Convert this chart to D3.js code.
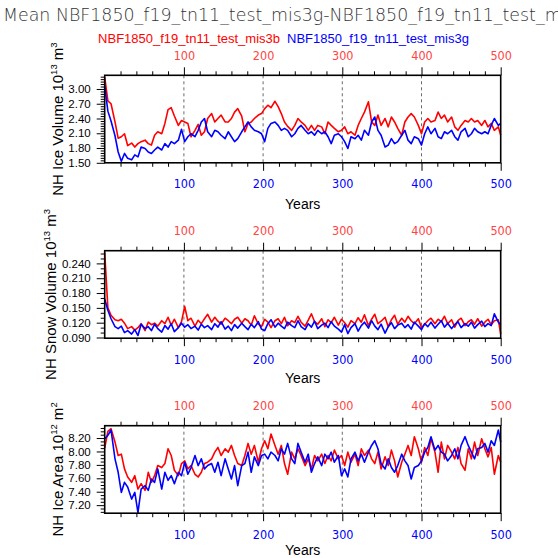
<!DOCTYPE html>
<html>
<head>
<meta charset="utf-8">
<script src="https://cdn.jsdelivr.net/npm/d3@7"></script>
<style>
  body { margin: 0; background: #fff; }
  svg { display: block; }
</style>
</head>
<body>
<svg id="chart" width="558" height="558"></svg>
<script>
// model years sampled from the time series
const years = [0,4,8,13,17,21,25,29,34,38,42,46,51,55,59,63,67,72,76,80,84,88,93,97,101,105,109,114,118,122,
  126,130,135,139,143,147,152,156,160,164,168,173,177,181,185,189,194,198,202,206,210,215,219,223,227,231,236,240,244,248,
  253,257,261,265,269,274,278,282,286,290,295,299,303,307,311,316,320,324,328,333,337,341,345,349,354,358,362,366,370,375,
  379,383,387,391,396,400,404,408,412,417,421,425,429,433,438,442,446,450,455,459,463,467,471,476,480,484,488,492,497,500];

const xTicks = [100, 200, 300, 400, 500];

// NH ice volume, 10^13 m^3
const iceVolMis3b = [
  3.24,2.76,2.70,2.33,2.00,2.03,2.09,1.85,1.90,1.82, 1.89,1.93,1.96,1.89,1.86,2.06,2.13,2.09,2.30,2.58,
  2.62,2.45,2.26,2.36,2.33,2.30,2.03,2.16,2.28,2.06, 2.13,2.40,2.50,2.33,2.40,2.47,2.33,2.33,2.40,2.53,
  2.60,2.45,2.13,2.30,2.33,2.40,2.47,2.50,2.60,2.67, 2.62,2.75,2.64,2.50,2.33,2.24,2.16,2.26,2.40,2.33,
  2.26,2.16,2.26,2.16,2.26,2.23,2.09,2.33,2.26,2.20, 2.13,2.16,2.23,2.09,2.13,2.06,2.26,2.40,2.53,2.74,
  2.33,2.26,2.47,2.26,2.40,2.23,2.43,2.33,2.20,2.06, 2.33,2.43,2.50,2.43,2.26,2.09,2.33,2.40,2.33,2.36,
  2.53,2.40,2.47,2.33,2.43,2.23,2.16,2.26,2.36,2.33, 2.40,2.33,2.36,2.26,2.36,2.23,2.30,2.16,2.23,2.06];
const iceVolMis3g = [
  3.07,2.55,2.35,2.05,1.72,1.53,1.69,1.59,1.56,1.66, 1.62,1.82,1.79,1.72,1.69,1.76,1.82,1.76,1.89,1.82,
  1.93,1.89,1.96,2.18,1.93,2.03,2.09,2.03,2.16,2.33, 2.40,2.13,2.03,2.16,2.13,2.06,1.99,2.13,2.03,1.93,
  1.99,2.13,2.23,2.33,2.23,2.16,2.13,2.09,1.93,2.20, 2.30,2.33,2.26,2.16,2.20,2.16,2.03,2.09,2.20,2.26,
  2.16,2.09,2.13,2.06,2.16,2.09,2.13,2.03,1.89,2.06, 2.09,2.03,1.93,1.79,2.03,1.99,2.06,1.96,2.16,2.06,
  2.33,2.43,2.16,2.06,1.82,1.86,1.99,1.89,1.93,2.06, 2.16,1.96,1.89,2.03,1.99,1.86,2.09,2.23,2.09,2.20,
  2.03,1.99,2.13,2.09,2.16,2.03,1.96,2.13,2.20,2.03, 2.09,2.20,2.13,2.09,2.13,2.09,2.26,2.40,2.26,2.30];

// NH snow volume, 10^13 m^3
const snowVolMis3b = [
  0.262,0.150,0.135,0.126,0.124,0.127,0.119,0.108,0.112,0.105, 0.110,0.118,0.104,0.121,0.116,0.119,0.113,0.124,0.118,0.131,
  0.115,0.127,0.110,0.122,0.153,0.124,0.129,0.113,0.125,0.118, 0.128,0.137,0.121,0.131,0.123,0.117,0.129,0.124,0.118,0.127,
  0.131,0.119,0.128,0.124,0.115,0.134,0.117,0.112,0.127,0.121, 0.110,0.124,0.128,0.118,0.131,0.114,0.124,0.120,0.133,0.121,
  0.113,0.125,0.138,0.122,0.117,0.128,0.112,0.126,0.120,0.131, 0.115,0.127,0.120,0.111,0.124,0.118,0.130,0.121,0.136,0.114,
  0.127,0.137,0.118,0.123,0.131,0.112,0.126,0.135,0.117,0.129, 0.121,0.133,0.124,0.118,0.128,0.110,0.117,0.124,0.129,0.118,
  0.127,0.122,0.133,0.118,0.126,0.111,0.124,0.129,0.114,0.122, 0.126,0.117,0.128,0.113,0.121,0.127,0.116,0.124,0.126,0.097];
const snowVolMis3g = [
  0.168,0.145,0.128,0.112,0.108,0.113,0.100,0.104,0.097,0.106, 0.094,0.117,0.108,0.112,0.104,0.117,0.108,0.101,0.114,0.107,
  0.118,0.102,0.110,0.119,0.111,0.116,0.108,0.113,0.105,0.117, 0.110,0.114,0.106,0.118,0.111,0.122,0.107,0.113,0.104,0.116,
  0.109,0.119,0.112,0.106,0.117,0.110,0.122,0.107,0.104,0.118, 0.126,0.111,0.119,0.113,0.108,0.121,0.114,0.110,0.124,0.112,
  0.106,0.118,0.111,0.123,0.108,0.115,0.119,0.110,0.122,0.113, 0.107,0.101,0.116,0.098,0.110,0.118,0.103,0.114,0.121,0.109,
  0.124,0.113,0.106,0.117,0.099,0.112,0.120,0.108,0.115,0.119, 0.110,0.116,0.107,0.121,0.113,0.106,0.118,0.112,0.121,0.109,
  0.117,0.124,0.111,0.119,0.108,0.116,0.122,0.110,0.118,0.113, 0.121,0.109,0.116,0.123,0.112,0.118,0.114,0.138,0.121,0.116];

// NH ice area, 10^12 m^2
const iceAreaMis3b = [
  8.05,8.30,8.34,8.14,7.94,7.96,7.74,7.62,7.54,7.64, 7.44,7.52,7.42,7.69,7.54,7.64,7.79,7.76,7.82,8.04,
  7.94,7.72,7.64,7.82,7.86,7.74,7.79,7.66,7.62,7.69, 7.82,7.84,7.89,7.99,8.06,7.94,8.04,7.99,8.09,7.94,
  7.82,7.79,7.94,8.12,7.96,8.09,7.84,8.04,8.16,8.04, 8.26,8.09,7.96,8.09,7.82,7.66,7.99,7.89,8.04,7.94,
  7.79,7.89,7.74,7.94,7.86,7.96,7.82,7.94,7.86,8.02, 7.89,7.94,7.79,7.99,7.84,7.96,7.79,8.04,7.94,8.02,
  7.89,7.82,7.99,7.74,7.92,7.79,8.02,7.86,7.62,7.84, 7.96,8.09,7.94,8.22,8.04,7.84,8.06,7.94,8.19,7.99,
  7.69,8.14,7.89,8.09,7.99,7.89,8.06,7.82,7.72,8.04, 7.89,8.14,7.94,8.19,8.04,7.92,8.06,7.66,7.94,7.84];
const iceAreaMis3g = [
  8.19,8.24,8.32,7.89,7.69,7.39,7.54,7.47,7.29,7.39, 7.09,7.44,7.49,7.42,7.59,7.54,7.74,7.44,7.69,7.57,
  7.64,7.52,7.69,7.64,7.84,7.66,7.76,7.94,7.79,7.89, 7.74,7.79,7.82,7.69,7.84,7.64,7.89,7.74,7.59,7.79,
  7.49,7.79,7.82,7.99,7.69,7.92,7.79,7.94,7.96,7.89, 7.99,7.94,7.86,8.04,7.96,8.12,7.89,7.82,8.12,7.99,
  7.84,7.96,7.69,7.82,7.92,7.79,7.96,7.89,7.99,7.84, 7.94,7.64,7.74,7.62,7.89,7.99,7.86,7.96,7.84,7.99,
  8.09,8.16,8.04,7.82,7.74,7.89,7.76,7.69,7.79,7.96, 7.86,7.79,7.59,7.76,7.79,7.86,7.99,8.06,8.22,8.02,
  8.09,7.99,7.96,7.86,7.94,8.04,7.89,8.09,8.22,8.09, 7.99,7.89,8.04,8.06,8.12,7.99,8.16,8.09,8.32,8.14];

const volTicks = [1.5, 1.8, 2.1, 2.4, 2.7, 3.0];
const snowTicks = [0.09, 0.12, 0.15, 0.18, 0.21, 0.24];
const areaTicks = [7.2, 7.4, 7.6, 7.8, 8.0, 8.2];

const caseB = "NBF1850_f19_tn11_test_mis3b";
const caseG = "NBF1850_f19_tn11_test_mis3g";

const svg = d3.select("#chart");
const left = 104.7, right = 500.7, ph = 87.5;
const tickFont = "'Liberation Sans Narrow', 'DejaVu Sans Condensed', 'Liberation Sans', Arial, sans-serif";
const sans = "'Liberation Sans', Arial, sans-serif";

const x = d3.scaleLinear().domain([0, 500]).range([left, right]);

// main title runs off the right edge, as in the original
svg.append("text")
    .attr("x", 3).attr("y", 21)
    .attr("font-family", "'DejaVu Sans', sans-serif")
    .attr("font-weight", 200)
    .attr("font-size", 17.4)
    .attr("fill", "#333")
    .text("Mean " + caseG + "-" + caseB);

svg.append("text")
    .attr("x", 280).attr("y", 43)
    .attr("text-anchor", "end")
    .attr("font-family", sans).attr("font-size", 13)
    .attr("fill", "red")
    .text(caseB);
svg.append("text")
    .attr("x", 287).attr("y", 43)
    .attr("font-family", sans).attr("font-size", 13)
    .attr("fill", "blue")
    .text(caseG);

const panels = [
  {top: 75.3, domain: [1.5, 3.278], ticks: volTicks, minor: 0.05, fmt: ".2f", yearsDy: 46,
   title: ["NH Ice Volume 10", "13", " m", "3"], red: iceVolMis3b, blue: iceVolMis3g},
  {top: 250.7, domain: [0.0886, 0.2657], ticks: snowTicks, minor: 0.01, fmt: ".3f", yearsDy: 45,
   title: ["NH Snow Volume 10", "13", " m", "3"], red: snowVolMis3b, blue: snowVolMis3g},
  {top: 425.7, domain: [7.08, 8.384], ticks: areaTicks, minor: 0.05, fmt: ".2f", yearsDy: 42,
   title: ["NH Ice Area 10", "12", " m", "2"], red: iceAreaMis3b, blue: iceAreaMis3g}
];

panels.forEach(p => {
  const bottom = p.top + ph;
  const y = d3.scaleLinear().domain(p.domain).range([bottom, p.top]);
  const g = svg.append("g");

  // dashed year grid
  g.selectAll(".grid")
    .data(xTicks.slice(0, 4))
    .enter().append("line")
      .attr("x1", d => x(d)).attr("x2", d => x(d))
      .attr("y1", p.top).attr("y2", bottom)
      .attr("stroke", "#444").attr("stroke-width", 0.8)
      .attr("stroke-dasharray", "3,3");

  const minorX = d3.range(20, 500, 20).filter(d => d % 100 !== 0);
  const minorY = d3.range(Math.ceil(p.domain[0] / p.minor) * p.minor, p.domain[1], p.minor)
      .filter(v => !p.ticks.some(t => Math.abs(t - v) < p.minor / 10));

  // top axis, red labels
  const gt = g.append("g").attr("transform", `translate(0,${p.top})`);
  gt.call(d3.axisTop(x).tickValues(xTicks).tickSize(8).tickPadding(7.5).tickFormat(d3.format("d")));
  gt.append("g").call(d3.axisTop(x).tickValues(minorX).tickSize(4).tickFormat(""));

  // bottom axis, blue labels
  const gb = g.append("g").attr("transform", `translate(0,${bottom})`);
  gb.call(d3.axisBottom(x).tickValues(xTicks).tickSize(8).tickPadding(8.5).tickFormat(d3.format("d")));
  gb.append("g").call(d3.axisBottom(x).tickValues(minorX).tickSize(4).tickFormat(""));

  // left axis
  const gl = g.append("g").attr("transform", `translate(${left},0)`);
  gl.call(d3.axisLeft(y).tickValues(p.ticks).tickSize(8).tickPadding(6).tickFormat(d3.format(p.fmt)));
  gl.append("g").call(d3.axisLeft(y).tickValues(minorY).tickSize(4).tickFormat(""));

  g.selectAll(".domain").remove();
  g.selectAll(".tick line").attr("stroke", "#000").attr("stroke-width", 1);
  gt.selectAll("text").attr("fill", "#f44").attr("font-family", tickFont).attr("font-size", 12.5);
  gb.selectAll("text").attr("fill", "blue").attr("font-family", tickFont).attr("font-size", 12.5);
  gl.selectAll("text").attr("fill", "#000").attr("font-family", sans).attr("font-size", 11.5);

  const line = d3.line()
      .x((d, i) => x(years[i]))
      .y(d => y(d));

  g.append("path").datum(p.red)
      .attr("fill", "none").attr("stroke", "red").attr("stroke-width", 1.6)
      .attr("stroke-linejoin", "round")
      .attr("d", line);
  g.append("path").datum(p.blue)
      .attr("fill", "none").attr("stroke", "blue").attr("stroke-width", 1.6)
      .attr("stroke-linejoin", "round")
      .attr("d", line);

  g.append("rect")
      .attr("x", left).attr("y", p.top)
      .attr("width", right - left).attr("height", ph)
      .attr("fill", "none").attr("stroke", "#000").attr("stroke-width", 1.6);

  g.append("text")
      .attr("x", (left + right) / 2).attr("y", bottom + p.yearsDy)
      .attr("text-anchor", "middle")
      .attr("font-family", sans).attr("font-size", 14)
      .text("Years");

  // y title sits just left of the widest tick label
  let labelLeft = left;
  gl.selectAll("text").each(function() {
    labelLeft = Math.min(labelLeft, left + this.getBBox().x);
  });

  const t = g.append("text")
      .attr("transform", `translate(${labelLeft - 5.5},${p.top + ph / 2}) rotate(-90)`)
      .attr("text-anchor", "middle")
      .attr("font-family", sans).attr("font-size", 15);
  t.append("tspan").text(p.title[0]);
  t.append("tspan").attr("dy", -6).attr("font-size", 9.5).text(p.title[1]);
  t.append("tspan").attr("dy", 6).text(p.title[2]);
  t.append("tspan").attr("dy", -6).attr("font-size", 9.5).text(p.title[3]);
});
</script>
</body>
</html>
